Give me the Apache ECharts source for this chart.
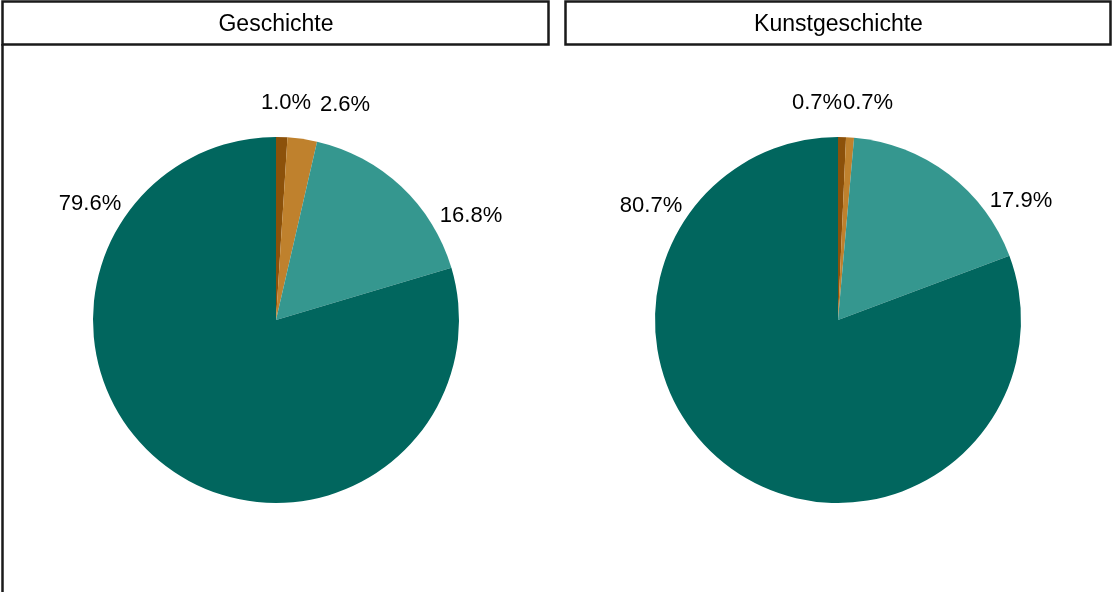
<!DOCTYPE html>
<html>
<head>
<meta charset="utf-8">
<script src="https://cdn.jsdelivr.net/npm/echarts@6/dist/echarts.min.js"></script>
<style>
html,body{margin:0;padding:0;background:#fff;}
#chart{width:1112px;height:592px;}
</style>
</head>
<body>
<div id="chart"></div>
<script>
// ---- data ----
const panels = ["Geschichte", "Kunstgeschichte"];
const categories = ["A", "B", "C", "D"];
const geschichteValues = [1.0, 2.6, 16.8, 79.6];
const kunstgeschichteValues = [0.7, 0.7, 17.9, 80.7];

// ---- styles ----
const colors = ["#8C510A", "#BF812D", "#35978F", "#01665E"];
const FONT = "Liberation Sans, Arial, sans-serif";
const centers = [[276, 320], [838, 320]];
const radius = 183;
// label offsets relative to pie centre (styling only)
const labelOffsets = [
  [[10, -217], [69, -215], [195, -104], [-186, -116]],
  [[-21, -217], [30, -217], [183, -119], [-187, -114]]
];

const chart = echarts.init(document.getElementById('chart'), null, {renderer: 'canvas'});

function makeSeries(vals, idx) {
  return {
    type: 'pie',
    center: centers[idx],
    radius: radius,
    startAngle: 90,
    clockwise: true,
    silent: true,
    animation: false,
    itemStyle: {borderWidth: 0},
    label: {
      show: true,
      position: 'outside',
      formatter: p => p.value.toFixed(1) + '%',
      fontFamily: FONT,
      fontSize: 22,
      color: '#000'
    },
    labelLine: {show: false},
    labelLayout: function (params) {
      const o = labelOffsets[idx][params.dataIndex];
      return {x: centers[idx][0] + o[0], y: centers[idx][1] + o[1], align: 'center', verticalAlign: 'middle'};
    },
    data: vals.map((v, i) => ({name: categories[i], value: v, itemStyle: {color: colors[i]}}))
  };
}

const option = {
  backgroundColor: '#fff',
  animation: false,
  graphic: [
    {type: 'rect', shape: {x: 2.5, y: 1.5, width: 546, height: 43}, style: {fill: '#fff', stroke: '#1a1a1a', lineWidth: 2.5}, z: -1},
    {type: 'rect', shape: {x: 565.5, y: 1.5, width: 545, height: 43}, style: {fill: '#fff', stroke: '#1a1a1a', lineWidth: 2.5}, z: -1},
    {type: 'line', shape: {x1: 2.5, y1: 44, x2: 2.5, y2: 592}, style: {stroke: '#1a1a1a', lineWidth: 2.5}}
  ].concat(panels.map((t, i) => ({
    type: 'text',
    x: i === 0 ? 276 : 838.5,
    y: 24.5,
    style: {text: t, fontFamily: FONT, fontSize: 23, fill: '#000', align: 'center', verticalAlign: 'middle'}
  }))),
  series: [makeSeries(geschichteValues, 0), makeSeries(kunstgeschichteValues, 1)]
};
chart.setOption(option);
</script>
</body>
</html>
